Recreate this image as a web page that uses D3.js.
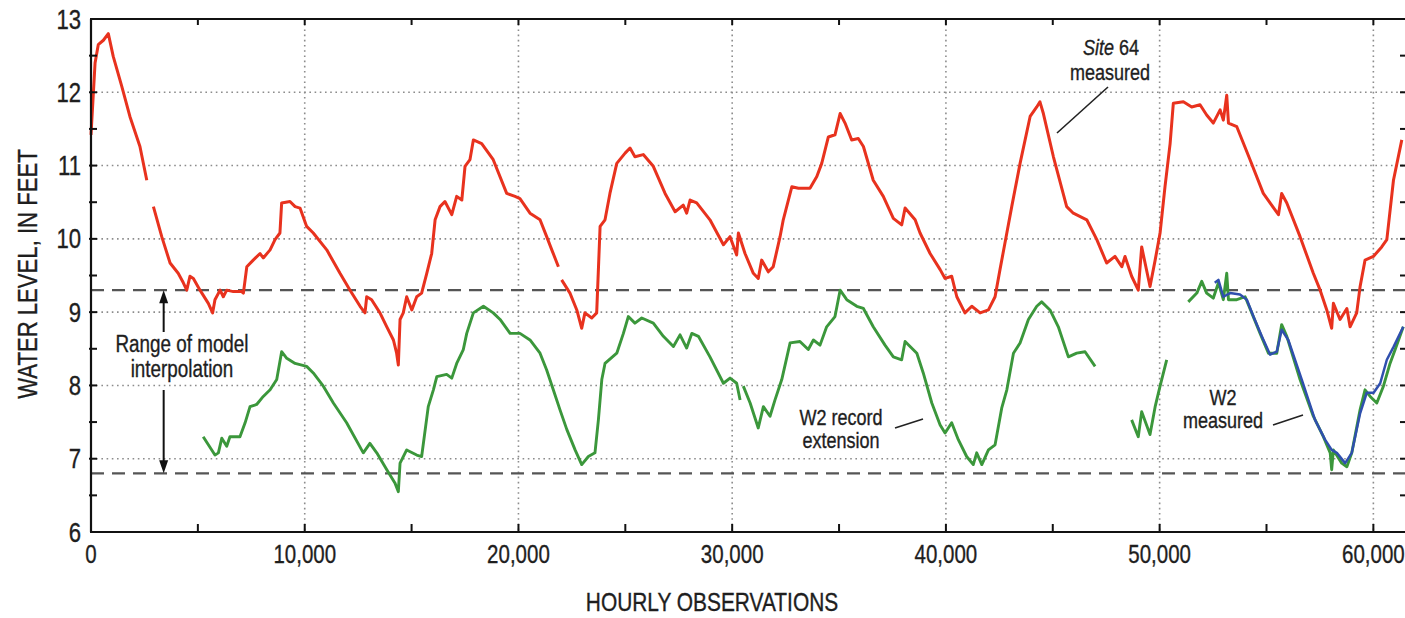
<!DOCTYPE html>
<html>
<head>
<meta charset="utf-8">
<script src="https://cdn.jsdelivr.net/npm/d3@7"></script>
<style>
  body { margin: 0; background: #fff; }
  svg text { font-family: "Liberation Sans", Arial, sans-serif; fill: #1e1e1e; stroke: #1e1e1e; stroke-width: 0.35px; }
</style>
</head>
<body>
<div id="chart"></div>
<script>
var site64 = [
  [0,11.42],[190,12.40],[340,12.65],[580,12.71],[810,12.80],[1040,12.49],[1440,12.08],[1820,11.67],[2290,11.26],[2610,10.80],
  [2760,null],[2920,10.44],[3310,10.03],[3700,9.67],[4080,9.53],[4320,9.40],[4480,9.30],[4630,9.49],[4790,9.46],[5100,9.30],
  [5490,9.12],[5690,8.99],[5800,9.17],[6040,9.30],[6190,9.21],[6350,9.30],[6660,9.28],[7050,9.28],[7130,9.26],[7290,9.62],
  [7590,9.71],[7910,9.80],[8060,9.74],[8380,9.85],[8610,9.99],[8840,10.08],[8920,10.49],[9310,10.51],[9550,10.44],[9780,10.42],
  [10090,10.17],[10400,10.08],[11030,9.85],[11650,9.53],[12120,9.30],[12590,9.08],[12820,8.99],[12900,9.21],[13130,9.17],[13520,8.99],
  [13840,8.80],[14150,8.62],[14300,8.44],[14380,8.28],[14460,8.90],[14610,8.99],[14770,9.21],[15010,9.03],[15240,9.21],[15470,9.26],
  [15710,9.53],[15940,9.80],[16100,10.26],[16330,10.44],[16560,10.51],[16880,10.33],[17110,10.58],[17350,10.53],[17500,10.99],[17730,11.08],
  [17890,11.35],[18280,11.30],[18820,11.08],[19450,10.62],[19840,10.58],[20070,10.55],[20540,10.35],[21010,10.26],[21320,10.03],[21560,9.85],
  [21870,9.62],[21950,null],[22020,9.44],[22410,9.26],[22730,9.03],[22960,8.78],[23110,8.99],[23430,8.92],[23660,8.99],[23820,10.17],
  [24050,10.26],[24280,10.62],[24600,11.03],[24990,11.17],[25220,11.24],[25450,11.12],[25840,11.15],[26310,10.99],[26860,10.62],[27330,10.37],
  [27710,10.46],[27870,10.35],[28030,10.53],[28340,10.49],[28960,10.26],[29590,9.92],[29900,10.03],[30210,9.78],[30290,10.08],[30600,9.80],
  [30990,9.53],[31220,9.46],[31380,9.71],[31690,9.55],[31920,9.62],[32240,10.03],[32390,10.26],[32790,10.71],[33100,10.69],[33640,10.69],
  [33960,10.85],[34190,11.03],[34500,11.39],[34810,11.42],[35050,11.71],[35280,11.58],[35590,11.35],[35900,11.37],[36140,11.26],[36600,10.80],
  [37070,10.58],[37540,10.28],[37930,10.19],[38090,10.42],[38560,10.26],[38790,10.08],[39260,9.80],[39730,9.58],[39960,9.46],[40270,9.49],
  [40510,9.21],[40890,8.99],[41210,9.08],[41600,8.99],[41990,9.03],[42300,9.21],[42530,9.58],[42850,10.08],[43080,10.44],[43470,11.03],
  [43940,11.67],[44250,11.80],[44400,11.87],[44560,11.71],[45030,11.12],[45650,10.44],[45960,10.35],[46590,10.26],[47060,9.99],[47520,9.67],
  [47910,9.76],[48230,9.62],[48380,9.76],[48690,9.49],[49000,9.30],[49160,9.89],[49550,9.35],[49790,9.71],[50020,10.08],[50250,10.71],
  [50490,11.30],[50640,11.85],[51110,11.87],[51500,11.80],[51890,11.83],[52200,11.69],[52510,11.58],[52830,11.76],[52980,11.62],[53140,11.96],
  [53220,11.58],[53610,11.53],[54230,11.08],[54850,10.62],[55560,10.33],[55710,10.62],[55950,10.49],[56570,10.03],[57190,9.53],[57510,9.30],
  [57820,9.03],[58050,8.78],[58130,9.12],[58440,8.90],[58760,9.05],[58910,8.80],[59220,8.99],[59380,9.35],[59610,9.71],[60000,9.76],
  [60390,9.89],[60630,9.99],[60940,10.80],[61330,11.35]
];

var w2Extension = [
  [5250,7.30],[5800,7.05],[5960,7.08],[6120,7.28],[6350,7.17],[6500,7.30],[6970,7.30],[7210,7.49],[7440,7.71],[7750,7.74],
  [8060,7.85],[8380,7.94],[8690,8.08],[8920,8.46],[9160,8.37],[9550,8.30],[10090,8.26],[10400,8.17],[10870,7.99],[11340,7.76],
  [11960,7.49],[12740,7.08],[13050,7.21],[13370,7.08],[13840,6.85],[14220,6.67],[14380,6.55],[14460,6.94],[14770,7.12],[15240,7.05],
  [15470,7.03],[15780,7.71],[16020,7.94],[16180,8.12],[16640,8.15],[16880,8.10],[17110,8.30],[17420,8.49],[17580,8.71],[17890,8.99],
  [18360,9.08],[18820,8.99],[19140,8.90],[19610,8.71],[20070,8.71],[20540,8.62],[21010,8.44],[21320,8.21],[21630,7.94],[21940,7.67],
  [22260,7.40],[22650,7.12],[22960,6.92],[23270,7.03],[23580,7.08],[23740,7.53],[23900,8.08],[24050,8.30],[24600,8.44],[24910,8.71],
  [25140,8.94],[25450,8.85],[25770,8.92],[26310,8.85],[26780,8.67],[27250,8.53],[27560,8.69],[27870,8.51],[28110,8.71],[28420,8.67],
  [28960,8.39],[29590,8.03],[29900,8.10],[30210,8.03],[30370,7.80],[30440,null],[30520,7.99],[30840,7.76],[31220,7.42],[31460,7.71],
  [31770,7.58],[32000,7.80],[32320,8.08],[32710,8.58],[33170,8.60],[33560,8.49],[33800,8.62],[34110,8.55],[34420,8.80],[34810,8.94],
  [35050,9.30],[35360,9.17],[35830,9.08],[36140,9.05],[36600,8.80],[37150,8.55],[37540,8.39],[37930,8.35],[38090,8.60],[38640,8.44],
  [38940,8.17],[39340,7.76],[39730,7.46],[39960,7.35],[40270,7.49],[40580,7.26],[40970,7.03],[41280,6.92],[41440,7.08],[41680,6.92],
  [41990,7.12],[42300,7.19],[42610,7.69],[42850,7.94],[43160,8.44],[43470,8.58],[43860,8.90],[44250,9.08],[44480,9.14],[44870,9.03],
  [45260,8.80],[45730,8.39],[46120,8.44],[46510,8.46],[46980,8.26],[47800,null],
  [48690,7.53],[49000,7.30],[49160,7.64],[49550,7.33],[49790,7.71],[50020,7.99],[50330,8.35],[50800,null],
  [51340,9.14],[51740,9.26],[51970,9.42],[52200,9.26],[52510,9.19],[52750,9.40],[52980,9.17],[53140,9.53],[53220,9.17],[53610,9.17],
  [54000,9.21],[54310,8.99],[54700,8.71],[55090,8.44],[55480,8.44],[55710,8.83],[55950,8.67],[56570,8.08],[57190,7.58],[57660,7.30],
  [57980,7.08],[58050,6.85],[58130,7.12],[58520,6.94],[58760,6.89],[58990,7.08],[59380,7.67],[59610,7.94],[59850,7.85],[60160,7.76],
  [60470,7.99],[60780,8.30],[61020,8.49],[61400,8.80]
];

var w2Measured = [
  [52580,9.40],[52750,9.44],[52980,9.21],[53300,9.26],[53760,9.24],[54080,9.17],[54390,8.94],[54780,8.67],[55170,8.42],[55480,8.46],
  [55710,8.76],[56020,8.62],[56650,8.08],[57270,7.53],[57740,7.26],[58050,7.12],[58290,7.08],[58680,6.94],[58990,7.08],[59380,7.62],
  [59690,7.90],[60010,7.90],[60320,8.03],[60630,8.35],[60950,8.53],[61400,8.80]
];

var interpolationRange = [6.8, 9.3];   // dashed limits, feet
var xTickValues = [0, 10000, 20000, 30000, 40000, 50000, 60000];
var yTickValues = [6, 7, 8, 9, 10, 11, 12, 13];

var width = 1405, height = 618;
var narrow = 0.82;   // squeeze Liberation Sans to a narrow face
var svg = d3.select("#chart").append("svg")
    .attr("width", width)
    .attr("height", height);

var x = d3.scaleLinear().domain([0, 61480]).range([91, 1405]);
var y = d3.scaleLinear().domain([6, 13]).range([532, 19]);

function txt(px, py, s, size, anchor, rot) {
  var g = svg.append("g")
      .attr("transform", "translate(" + px + "," + py + ")" + (rot ? " rotate(" + rot + ")" : "") + " scale(" + narrow + ",1)");
  return g.append("text")
      .attr("text-anchor", anchor || "middle")
      .style("font-size", size + "px")
      .text(s);
}

// dotted grid
var grid = svg.append("g")
    .attr("stroke", "#8c8c8c")
    .attr("stroke-width", 1.6)
    .attr("stroke-dasharray", "1.6,3.6");
grid.selectAll("line.gx")
    .data(xTickValues.filter(function(d) { return d > 0; }))
  .enter().append("line")
    .attr("x1", function(d) { return x(d); })
    .attr("x2", function(d) { return x(d); })
    .attr("y1", y(13))
    .attr("y2", y(6));
grid.selectAll("line.gy")
    .data(yTickValues.filter(function(d) { return d > 6 && d < 13; }))
  .enter().append("line")
    .attr("x1", x(0))
    .attr("x2", width)
    .attr("y1", function(d) { return y(d); })
    .attr("y2", function(d) { return y(d); });

// dashed range-of-interpolation lines
svg.selectAll("line.range")
    .data(interpolationRange)
  .enter().append("line")
    .attr("x1", x(0))
    .attr("x2", width)
    .attr("y1", function(d) { return y(d); })
    .attr("y2", function(d) { return y(d); })
    .attr("stroke", "#555")
    .attr("stroke-width", 2.2)
    .attr("stroke-dasharray", "13,8");

// series
var line = d3.line()
    .defined(function(d) { return d[1] !== null; })
    .x(function(d) { return x(d[0]); })
    .y(function(d) { return y(d[1]); });

svg.append("path").datum(site64)
    .attr("fill", "none").attr("stroke", "#e8321e").attr("stroke-width", 3)
    .attr("stroke-linejoin", "round").attr("d", line);
svg.append("path").datum(w2Extension)
    .attr("fill", "none").attr("stroke", "#3b973b").attr("stroke-width", 2.9)
    .attr("stroke-linejoin", "round").attr("d", line);
svg.append("path").datum(w2Measured)
    .attr("fill", "none").attr("stroke", "#2f4fae").attr("stroke-width", 2.5)
    .attr("stroke-linejoin", "round").attr("d", line);

// frame: left, bottom, top (right edge runs off the page)
var frame = svg.append("g").attr("stroke", "#111").attr("stroke-width", 2.2);
frame.append("line").attr("x1", x(0)).attr("x2", x(0)).attr("y1", y(13)).attr("y2", y(6));
frame.append("line").attr("x1", x(0) - 1).attr("x2", width).attr("y1", y(6)).attr("y2", y(6));
frame.append("line").attr("x1", x(0) - 1).attr("x2", width).attr("y1", y(13)).attr("y2", y(13));

// inward ticks
var xMinor = d3.range(5000, 61000, 5000);
var yMinor = d3.range(6.5, 13, 0.5);
var ticks = svg.append("g").attr("stroke", "#111").attr("stroke-width", 2);
ticks.selectAll("line.bt").data(xMinor).enter().append("line")
    .attr("x1", function(d) { return x(d); }).attr("x2", function(d) { return x(d); })
    .attr("y1", y(6)).attr("y2", y(6) - 8);
ticks.selectAll("line.tt").data(xMinor).enter().append("line")
    .attr("x1", function(d) { return x(d); }).attr("x2", function(d) { return x(d); })
    .attr("y1", y(13)).attr("y2", y(13) + 6);
ticks.selectAll("line.lt").data(yMinor).enter().append("line")
    .attr("x1", x(0) - 2).attr("x2", x(0) + 6)
    .attr("y1", function(d) { return y(d); }).attr("y2", function(d) { return y(d); });
ticks.selectAll("line.rt").data(yMinor).enter().append("line")
    .attr("x1", width).attr("x2", width - 5)
    .attr("y1", function(d) { return y(d); }).attr("y2", function(d) { return y(d); });

// tick labels
xTickValues.forEach(function(d) {
  txt(x(d), 563, d3.format(",")(d), 25, "middle");
});
yTickValues.forEach(function(d) {
  txt(81, y(d) + 9.5, String(d), 27, "end");
});

// axis titles
txt(712, 611, "HOURLY OBSERVATIONS", 25.5, "middle");
txt(37, 274, "WATER LEVEL, IN FEET", 27, "middle", -90);

// range arrow
var arrowX = x(3400);
var arrow = svg.append("g").attr("stroke", "#111").attr("stroke-width", 2);
arrow.append("line").attr("x1", arrowX).attr("x2", arrowX).attr("y1", y(9.3) + 10).attr("y2", 332);
arrow.append("line").attr("x1", arrowX).attr("x2", arrowX).attr("y1", 390).attr("y2", y(6.8) - 10);
svg.append("path")
    .attr("d", "M" + arrowX + "," + y(9.3) + "l-4.5,13h9z")
    .attr("fill", "#111");
svg.append("path")
    .attr("d", "M" + arrowX + "," + y(6.8) + "l-4.5,-13h9z")
    .attr("fill", "#111");

// annotations
txt(182, 352, "Range of model", 23);
txt(182, 377, "interpolation", 23);
txt(841, 425, "W2 record", 22);
txt(841, 448, "extension", 22);
var site = txt(1111, 55, "", 22);
site.append("tspan").style("font-style", "italic").text("Site");
site.append("tspan").text(" 64");
txt(1110, 80, "measured", 22);
txt(1223, 405, "W2", 22);
txt(1223, 428, "measured", 22);

var leaders = svg.append("g").attr("stroke", "#222").attr("stroke-width", 1.6);
leaders.append("line").attr("x1", 1108).attr("y1", 87).attr("x2", 1057).attr("y2", 133);
leaders.append("line").attr("x1", 895).attr("y1", 428).attr("x2", 923).attr("y2", 419);
leaders.append("line").attr("x1", 1273).attr("y1", 425).attr("x2", 1303).attr("y2", 415);
</script>
</body>
</html>
